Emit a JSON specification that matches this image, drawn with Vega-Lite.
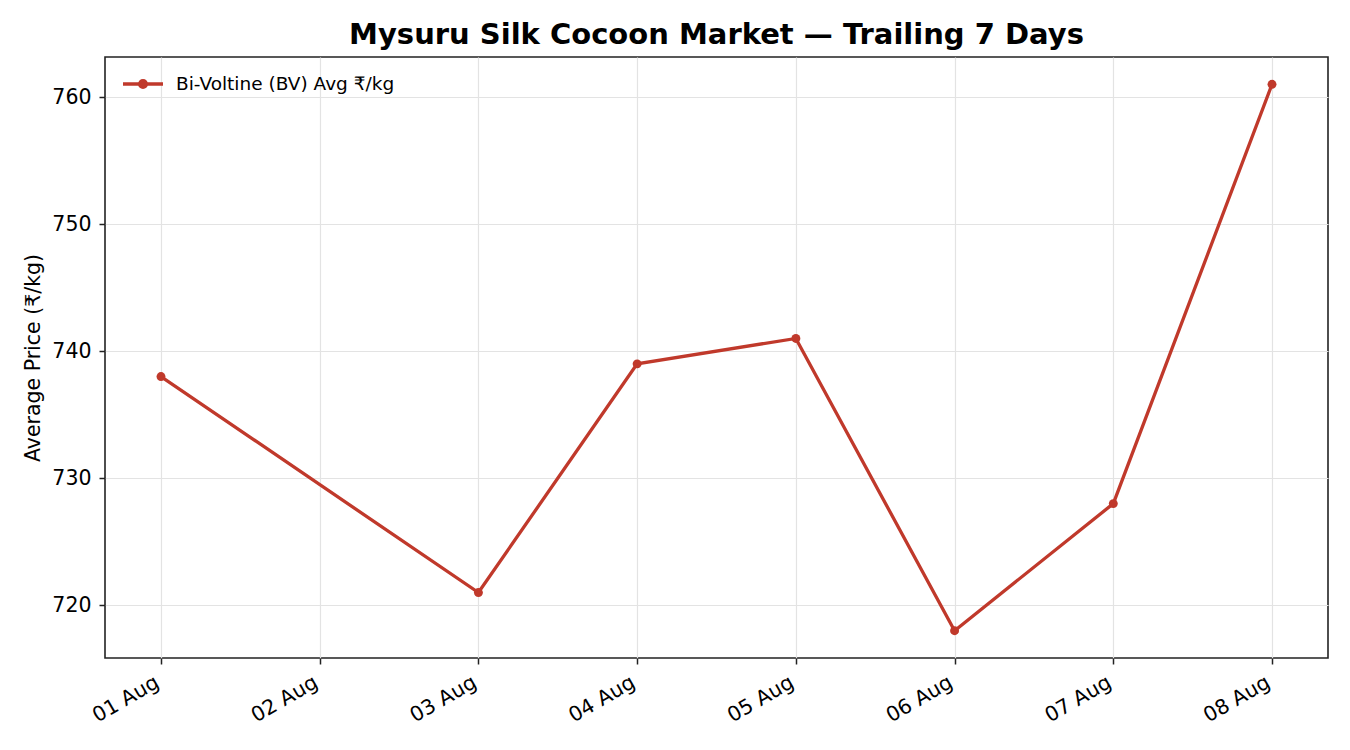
{
  "$schema": "https://vega.github.io/schema/vega-lite/v6.json",
  "width": 1223,
  "height": 601,
  "autosize": {"type": "none"},
  "padding": {"left": 105, "top": 57, "right": 22, "bottom": 92},
  "background": "white",
  "title": {
    "text": "Mysuru Silk Cocoon Market — Trailing 7 Days",
    "font": "DejaVu Sans",
    "fontSize": 29,
    "fontWeight": "bold",
    "color": "#000000",
    "anchor": "middle",
    "offset": 7
  },
  "config": {
    "view": {"stroke": "#222222", "strokeWidth": 1.6},
    "font": "DejaVu Sans"
  },
  "data": {
    "values": [
      {"date": "2024-08-01", "price": 738, "series": "Bi-Voltine (BV) Avg ₹/kg"},
      {"date": "2024-08-03", "price": 721, "series": "Bi-Voltine (BV) Avg ₹/kg"},
      {"date": "2024-08-04", "price": 739, "series": "Bi-Voltine (BV) Avg ₹/kg"},
      {"date": "2024-08-05", "price": 741, "series": "Bi-Voltine (BV) Avg ₹/kg"},
      {"date": "2024-08-06", "price": 718, "series": "Bi-Voltine (BV) Avg ₹/kg"},
      {"date": "2024-08-07", "price": 728, "series": "Bi-Voltine (BV) Avg ₹/kg"},
      {"date": "2024-08-08", "price": 761, "series": "Bi-Voltine (BV) Avg ₹/kg"}
    ]
  },
  "mark": {
    "type": "line",
    "strokeWidth": 3.3,
    "point": {"filled": true, "size": 80, "color": "#c0392b", "opacity": 1}
  },
  "encoding": {
    "x": {
      "field": "date",
      "type": "temporal",
      "scale": {
        "type": "utc",
        "domain": [
          {"year": 2024, "month": "jul", "date": 31, "hours": 15, "minutes": 32, "utc": true},
          {"year": 2024, "month": "aug", "date": 8, "hours": 8, "minutes": 28, "utc": true}
        ]
      },
      "axis": {
        "title": null,
        "labelExpr": "utcFormat(datum.value, '%d %b')",
        "tickCount": {"interval": "day", "step": 1},
        "labelAngle": -30,
        "labelAlign": "right",
        "labelBaseline": "top",
        "labelFontSize": 20.5,
        "labelColor": "#000000",
        "labelPadding": 8,
        "labelOffset": -9,
        "labelFlush": false,
        "labelOverlap": false,
        "domain": false,
        "ticks": true,
        "tickSize": 6,
        "tickWidth": 1.5,
        "tickColor": "#222222",
        "grid": true,
        "gridColor": "#e3e3e3",
        "gridWidth": 1.2
      }
    },
    "y": {
      "field": "price",
      "type": "quantitative",
      "scale": {"domain": [715.85, 763.15], "nice": false, "zero": false},
      "axis": {
        "title": "Average Price (₹/kg)",
        "titleFontSize": 20.5,
        "titleFontWeight": "normal",
        "titleColor": "#000000",
        "titlePadding": 8,
        "values": [720, 730, 740, 750, 760],
        "labelFontSize": 20.5,
        "labelColor": "#000000",
        "labelPadding": 8,
        "domain": false,
        "tickSize": 6,
        "tickWidth": 1.5,
        "tickColor": "#222222",
        "grid": true,
        "gridColor": "#e3e3e3",
        "gridWidth": 1.2
      }
    },
    "color": {
      "field": "series",
      "type": "nominal",
      "scale": {"range": ["#c0392b"]},
      "legend": {
        "title": null,
        "orient": "none",
        "legendX": 16,
        "legendY": 5,
        "padding": 0,
        "symbolType": "M-1,0H1M-0.17,0a0.17,0.17 0 1,0 0.34,0a0.17,0.17 0 1,0 -0.34,0",
        "symbolSize": 1600,
        "symbolStrokeWidth": 3.3,
        "symbolFillColor": "#c0392b",
        "symbolStrokeColor": "#c0392b",
        "labelFontSize": 18.5,
        "labelLimit": 500,
        "labelColor": "#000000",
        "labelOffset": 11
      }
    }
  }
}
